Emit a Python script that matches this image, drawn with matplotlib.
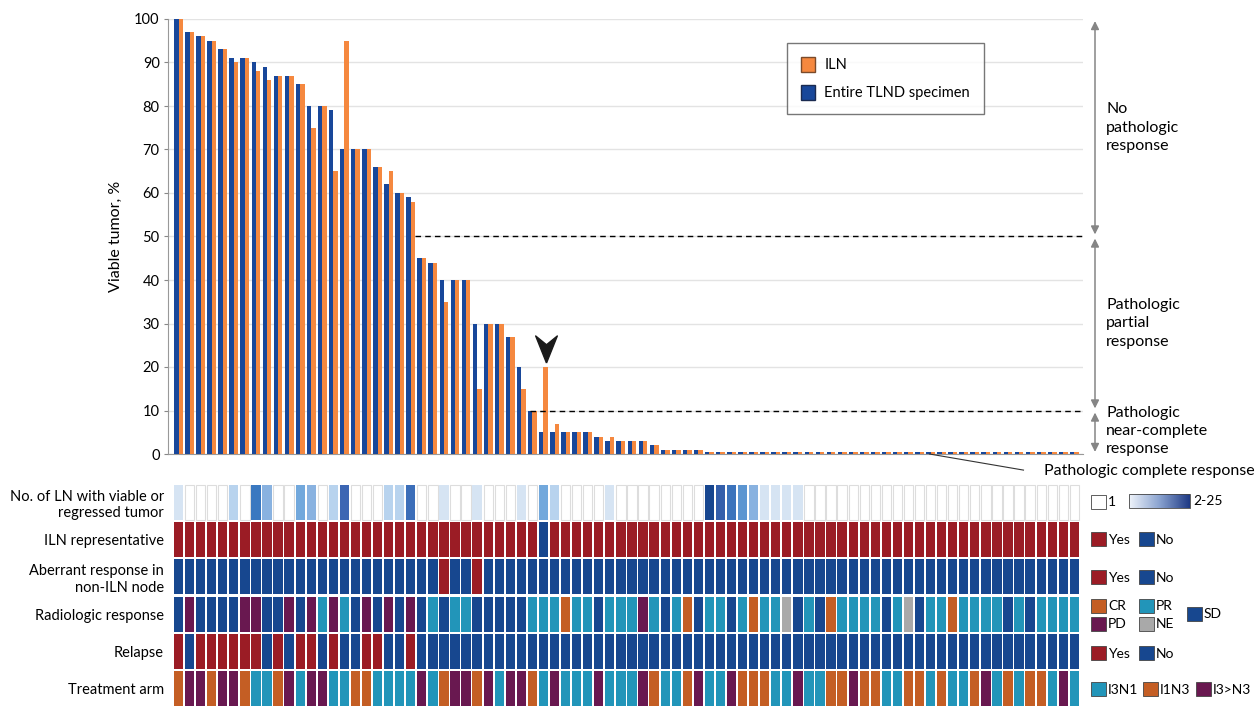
import numpy as np
import matplotlib
matplotlib.use("Agg")
import matplotlib.pyplot as plt
from matplotlib.patches import Patch, Rectangle
from matplotlib.colors import LinearSegmentedColormap, LogNorm

plt.rcParams['font.family'] = ['Lato', 'DejaVu Sans']

# viable tumor (%) per patient, sorted as in the figure
tlnd = [100, 97, 96, 95, 93, 91, 91, 90, 89, 87, 87, 85, 80, 80, 79, 70, 70, 70, 66, 62,
        60, 59, 45, 44, 40, 40, 40, 30, 30, 30, 27, 20, 10, 5, 5, 5, 5, 5, 4, 3,
        3, 3, 3, 2, 1, 1, 1, 1] + [0] * 34
iln = [100, 97, 96, 95, 93, 90, 91, 88, 86, 87, 87, 85, 75, 80, 65, 95, 70, 70, 66, 65,
       60, 58, 45, 44, 35, 40, 40, 15, 30, 30, 27, 15, 10, 20, 7, 5, 5, 5, 4, 4,
       3, 3, 3, 2, 1, 1, 1, 1] + [0] * 34

# number of lymph nodes with viable or regressed tumor
n_ln = [2, 1, 1, 1, 1, 3, 1, 8, 4, 1, 1, 5, 4, 1, 3, 12, 1, 1, 1, 3,
        3, 10, 1, 1, 2, 1, 1, 2, 1, 1, 1, 2, 1, 5, 3, 1, 1, 1, 1, 2,
        1, 1, 1, 1, 1, 1, 1, 1, 25, 14, 9, 6, 4, 2, 2, 2, 2, 1, 1, 1] + [1] * 22

iln_rep = ["Yes"] * 33 + ["No"] + ["Yes"] * 48
aberrant = ["No"] * 24 + ["Yes", "No", "No", "Yes"] + ["No"] * 54
radiologic = ("SD PD SD SD SD SD PD PD SD SD PD SD PD PR PD PR SD PD SD PD "
              "SD PD SD PR SD PR PR SD SD SD SD SD PR PR PR CR PR PR SD PR "
              "PR PR PD PR SD PR CR SD PR PR SD PR CR PR PR NE SD PR SD CR PR "
              "PR PR PR SD PR NE SD PR PR CR PR PR PR PR SD PR SD PR PR PR PR").split()
relapse = ("Yes No Yes Yes Yes Yes Yes Yes No Yes No Yes Yes No Yes No No Yes Yes No "
           "No Yes").split() + ["No"] * 60
arm = ("I1N3 I3>N3 I3>N3 I1N3 I3>N3 I3>N3 I1N3 I3N1 I3N1 I1N3 I3>N3 I3N1 I3>N3 I3>N3 I3N1 I3N1 I1N3 I1N3 I3N1 I3N1 "
       "I3N1 I3N1 I3>N3 I3N1 I1N3 I3>N3 I3>N3 I1N3 I3>N3 I3N1 I3>N3 I3>N3 I1N3 I3N1 I3>N3 I3N1 I3N1 I3N1 I3>N3 I3N1 "
       "I3N1 I3N1 I3>N3 I1N3 I3N1 I3N1 I1N3 I3>N3 I3N1 I3N1 I3>N3 I1N3 I1N3 I1N3 I3N1 I3N1 I3>N3 I3N1 I3N1 I1N3 I1N3 "
       "I3>N3 I1N3 I1N3 I3N1 I3N1 I1N3 I1N3 I3N1 I1N3 I3N1 I3N1 I1N3 I3>N3 I3N1 I1N3 I3N1 I1N3 I1N3 I3N1 I3>N3 I3N1").split()

row_labels = ["No. of LN with viable or\nregressed tumor", "ILN representative",
              "Aberrant response in\nnon-ILN node", "Radiologic response",
              "Relapse", "Treatment arm"]

BLUE = "#18479a"
ORANGE = "#f5883f"
RED = "#9b1c25"
NAVY = "#17478f"
TEAL = "#2295b9"
RUST = "#c45e24"
PURPLE = "#691850"
GREY = "#a9a9a9"

yn_col = {"Yes": RED, "No": NAVY}
rad_col = {"CR": RUST, "PR": TEAL, "PD": PURPLE, "NE": GREY, "SD": NAVY}
arm_col = {"I3N1": TEAL, "I1N3": RUST, "I3>N3": PURPLE}
ln_cmap = LinearSegmentedColormap.from_list(
    "ln", [(0, "#d6e4f3"), (0.16, "#b8d3ee"), (0.27, "#8ab3e0"), (0.36, "#72a8dc"),
           (0.55, "#3a78c0"), (0.71, "#3c66b3"), (1, "#17468f")])
ln_norm = LogNorm(2, 25)

W, H = 1260, 707
fig = plt.figure(figsize=(W / 100, H / 100), dpi=100)

x0, x1 = 168, 1083
ax = fig.add_axes([x0 / W, (H - 454) / H, (x1 - x0) / W, (454 - 19) / H])
hm = fig.add_axes([x0 / W, 0, (x1 - x0) / W, (H - 484) / H])

n = len(tlnd)
x = np.arange(n)
xlim = (-0.95, -0.95 + (x1 - x0) / 11.06)

# ---- bar chart ----
ax.bar(x - 0.2, np.maximum(tlnd, 0.35), width=0.4, color=BLUE, zorder=3)
ax.bar(x + 0.2, np.maximum(iln, 0.35), width=0.4, color=ORANGE, zorder=3)
ax.set_xlim(*xlim)
ax.set_ylim(0, 100)
ax.set_yticks(range(0, 101, 10))
ax.set_xticks([])
ax.tick_params(axis='y', length=3, pad=3, labelsize=10.5, color="#888888")
ax.set_ylabel("Viable tumor, %", fontsize=11.5, labelpad=8)
ax.grid(axis='y', color="#e3e3e3", linewidth=1, zorder=0)
for s in ["top", "right"]:
    ax.spines[s].set_visible(False)
ax.spines["left"].set_color("#999999")
ax.spines["bottom"].set_color("#999999")

ax.hlines(50, 21.4, xlim[1], colors="black", linestyles=(0, (4, 3)), linewidth=1, zorder=4)
ax.hlines(10, 31.8, xlim[1], colors="black", linestyles=(0, (4, 3)), linewidth=1, zorder=4)

# arrowhead marking the patient with the ILN outlier
head = [(0, -1), (-0.8, 1), (0, 0.35), (0.8, 1), (0, -1)]
ax.scatter([33.2], [24.2], marker=head, s=380, color="#1a1a1a", zorder=5, clip_on=False)

ax.legend(handles=[Patch(facecolor=ORANGE, edgecolor="#7a4a2a", label="ILN"),
                   Patch(facecolor=BLUE, edgecolor="#1a2a50", label="Entire TLND specimen")],
          loc="upper left", bbox_to_anchor=((787 - x0) / (x1 - x0), 1 - (43 - 19) / 435),
          frameon=True, fancybox=False, edgecolor="#555555", fontsize=10.5,
          handlelength=1.0, handleheight=1.2, borderpad=0.95, labelspacing=0.85,
          handletextpad=0.6, borderaxespad=0)

# response band arrows on the right
ax_x = (1095 - x0) / (x1 - x0)
for top, bot in [(100, 50), (50, 10), (10, 0)]:
    ax.annotate("", xy=(ax_x, bot), xytext=(ax_x, top),
                xycoords=("axes fraction", "data"), textcoords=("axes fraction", "data"),
                arrowprops=dict(arrowstyle="<|-|>", color="#858585", lw=1.1,
                                shrinkA=1.5, shrinkB=1.5, mutation_scale=12),
                annotation_clip=False)
tx = (1106 - x0) / (x1 - x0)
band_kw = dict(transform=ax.get_yaxis_transform(), fontsize=11.5, va="center",
               ha="left", linespacing=1.4)
ax.text(tx, 75, "No\npathologic\nresponse", **band_kw)
ax.text(tx, 30, "Pathologic\npartial\nresponse", **band_kw)
ax.text(tx, 5.3, "Pathologic\nnear-complete\nresponse", **band_kw)
ax.text((1255 - x0) / (x1 - x0), -3.9, "Pathologic complete response",
        transform=ax.get_yaxis_transform(), fontsize=11.5, va="center", ha="right")
ax.plot([67.9, 76.4], [0, -3.7], color="#333333", lw=0.8, clip_on=False, zorder=5)

# ---- annotation rows ----
rows = [
    [ln_cmap(ln_norm(v)) if v > 1 else "white" for v in n_ln],
    [yn_col[v] for v in iln_rep],
    [yn_col[v] for v in aberrant],
    [rad_col[v] for v in radiologic],
    [yn_col[v] for v in relapse],
    [arm_col[v] for v in arm],
]
for r, cols in enumerate(rows):
    edges = ["#dddddd" if c == "white" else "none" for c in cols]
    hm.bar(x, 0.94, bottom=r + 0.03, width=0.84, color=cols, edgecolor=edges, linewidth=0.8)
hm.set_xlim(*xlim)
hm.set_ylim(6, 0)
hm.set_xticks([])
hm.set_yticks(np.arange(6) + 0.5)
hm.set_yticklabels(row_labels, fontsize=10.5)
hm.tick_params(axis='y', length=0, pad=3)
for s in hm.spines.values():
    s.set_visible(False)

# ---- legends for annotation rows (pixel overlay) ----
ov = fig.add_axes([0, 0, 1, 1], zorder=10)
ov.set_xlim(0, W)
ov.set_ylim(H, 0)
ov.axis("off")
ov.patch.set_visible(False)


def swatch(px, py, color, label, tx_off=17):
    ov.add_patch(Rectangle((px, py), 15, 14, facecolor=color, edgecolor="#444444", lw=0.6))
    ov.text(px + tx_off, py + 7.5, label, fontsize=10, va="center", ha="left")


swatch(1091, 495, "white", "1")
grad = np.linspace(0, 1, 100).reshape(1, -1)
ov.imshow(grad, cmap=LinearSegmentedColormap.from_list("g", ["#eef3fa", "#8aa3d0", "#1f3a85"]),
          extent=(1129, 1190, 508, 494), aspect="auto")
ov.add_patch(Rectangle((1129, 494), 61, 14, facecolor="none", edgecolor="#444444", lw=0.6))
ov.text(1193, 501, "2-25", fontsize=10, va="center", ha="left")
for py in (532, 570, 646):
    swatch(1091, py, RED, "Yes")
    swatch(1139, py, NAVY, "No")
swatch(1091, 599, RUST, "CR")
swatch(1139, 599, TEAL, "PR")
swatch(1091, 617, PURPLE, "PD")
swatch(1139, 617, GREY, "NE")
swatch(1187, 607, NAVY, "SD")
swatch(1091, 682, TEAL, "I3N1")
swatch(1143, 682, RUST, "I1N3")
swatch(1196, 682, PURPLE, "I3>N3")

fig.savefig("out.png", dpi=100)
